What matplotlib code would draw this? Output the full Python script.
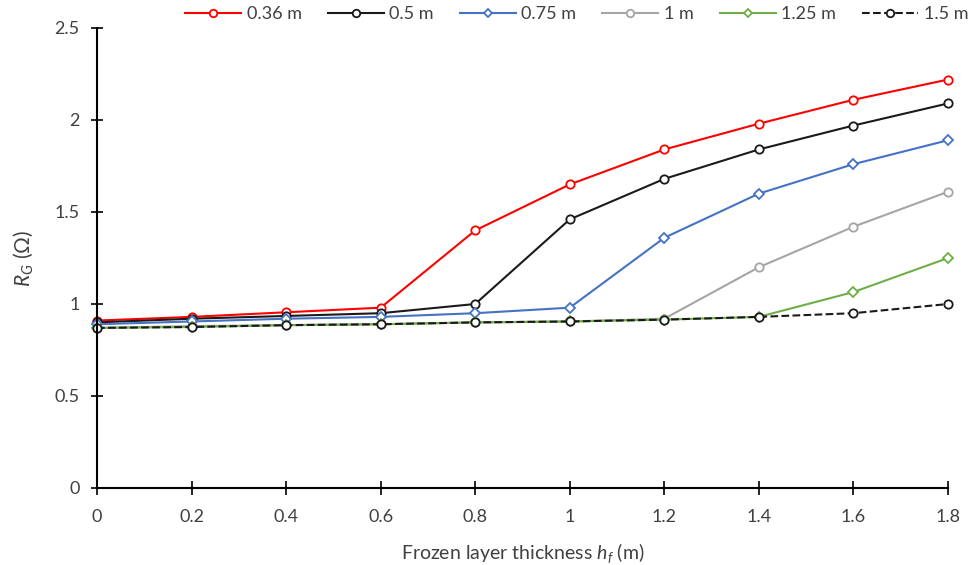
import matplotlib.pyplot as plt
import numpy as np

plt.rcParams['font.family'] = ['Lato', 'DejaVu Sans']
plt.rcParams['mathtext.fontset'] = 'custom'
plt.rcParams['mathtext.it'] = 'Lato:italic'
plt.rcParams['mathtext.rm'] = 'Lato'

hf = [0, 0.2, 0.4, 0.6, 0.8, 1.0, 1.2, 1.4, 1.6, 1.8]
labels = ['0.36 m', '0.5 m', '0.75 m', '1 m', '1.25 m', '1.5 m']
r_036 = [0.91, 0.93, 0.955, 0.98, 1.40, 1.65, 1.84, 1.98, 2.11, 2.22]
r_050 = [0.90, 0.92, 0.935, 0.95, 1.00, 1.46, 1.68, 1.84, 1.97, 2.09]
r_075 = [0.89, 0.905, 0.92, 0.93, 0.95, 0.98, 1.36, 1.60, 1.76, 1.89]
r_100 = [0.87, 0.88, 0.885, 0.89, 0.90, 0.905, 0.92, 1.20, 1.42, 1.61]
r_125 = [0.87, 0.875, 0.885, 0.89, 0.90, 0.905, 0.915, 0.93, 1.065, 1.25]
r_150 = [0.87, 0.875, 0.885, 0.89, 0.90, 0.905, 0.915, 0.93, 0.95, 1.00]

series = [r_036, r_050, r_075, r_100, r_125, r_150]
colors = ['#ff0000', '#1a1a1a', '#4472c4', '#a5a5a5', '#70ad47', '#1a1a1a']
markers = ['o', 'o', 'D', 'o', 'D', 'o']
styles = ['-', '-', '-', '-', '-', '--']

fig = plt.figure(figsize=(9.74, 5.65), dpi=100)
ax = fig.add_axes([97 / 974, 1 - 488 / 565, (948 - 97) / 974, (488 - 28) / 565])

for ys, c, m, ls, lab in zip(series, colors, markers, styles, labels):
    ms = 6 if m == 'o' else 5
    ax.plot(hf, ys, color=c, linestyle=ls, linewidth=1.5, marker=m, markersize=ms,
            markerfacecolor='white', markeredgecolor=c, markeredgewidth=1.3, label=lab,
            clip_on=False)

ax.set_xlim(0, 1.8)
ax.set_ylim(0, 2.5)
ax.set_xticks(np.arange(0, 1.81, 0.2))
ax.set_xticklabels(['0', '0.2', '0.4', '0.6', '0.8', '1', '1.2', '1.4', '1.6', '1.8'])
ax.set_yticks([0, 0.5, 1, 1.5, 2, 2.5])
ax.set_yticklabels(['0', '0.5', '1', '1.5', '2', '2.5'])
ax.spines['top'].set_visible(False)
ax.spines['right'].set_visible(False)
ax.spines['left'].set_linewidth(1.5)
ax.spines['bottom'].set_linewidth(1.5)
ax.tick_params(axis='x', direction='inout', length=10, width=1.2, labelsize=13,
               labelcolor='#404040', pad=10)
ax.tick_params(axis='y', direction='inout', length=9, width=1.2, labelsize=13,
               labelcolor='#404040', pad=8)

ax.set_xlabel('Frozen layer thickness $h_f$ (m)', fontsize=14, color='#404040', labelpad=12)
ax.set_ylabel('$R_G$ (Ω)', fontsize=15, color='#404040', labelpad=14)

fig.legend(loc='center', bbox_to_anchor=(0.592, 0.975), ncol=6, frameon=False,
           fontsize=13, handlelength=3.1, columnspacing=1.45, handletextpad=0.3,
           labelcolor='#404040', markerscale=0.9, borderaxespad=0, borderpad=0)

fig.savefig('out.png', dpi=100)
